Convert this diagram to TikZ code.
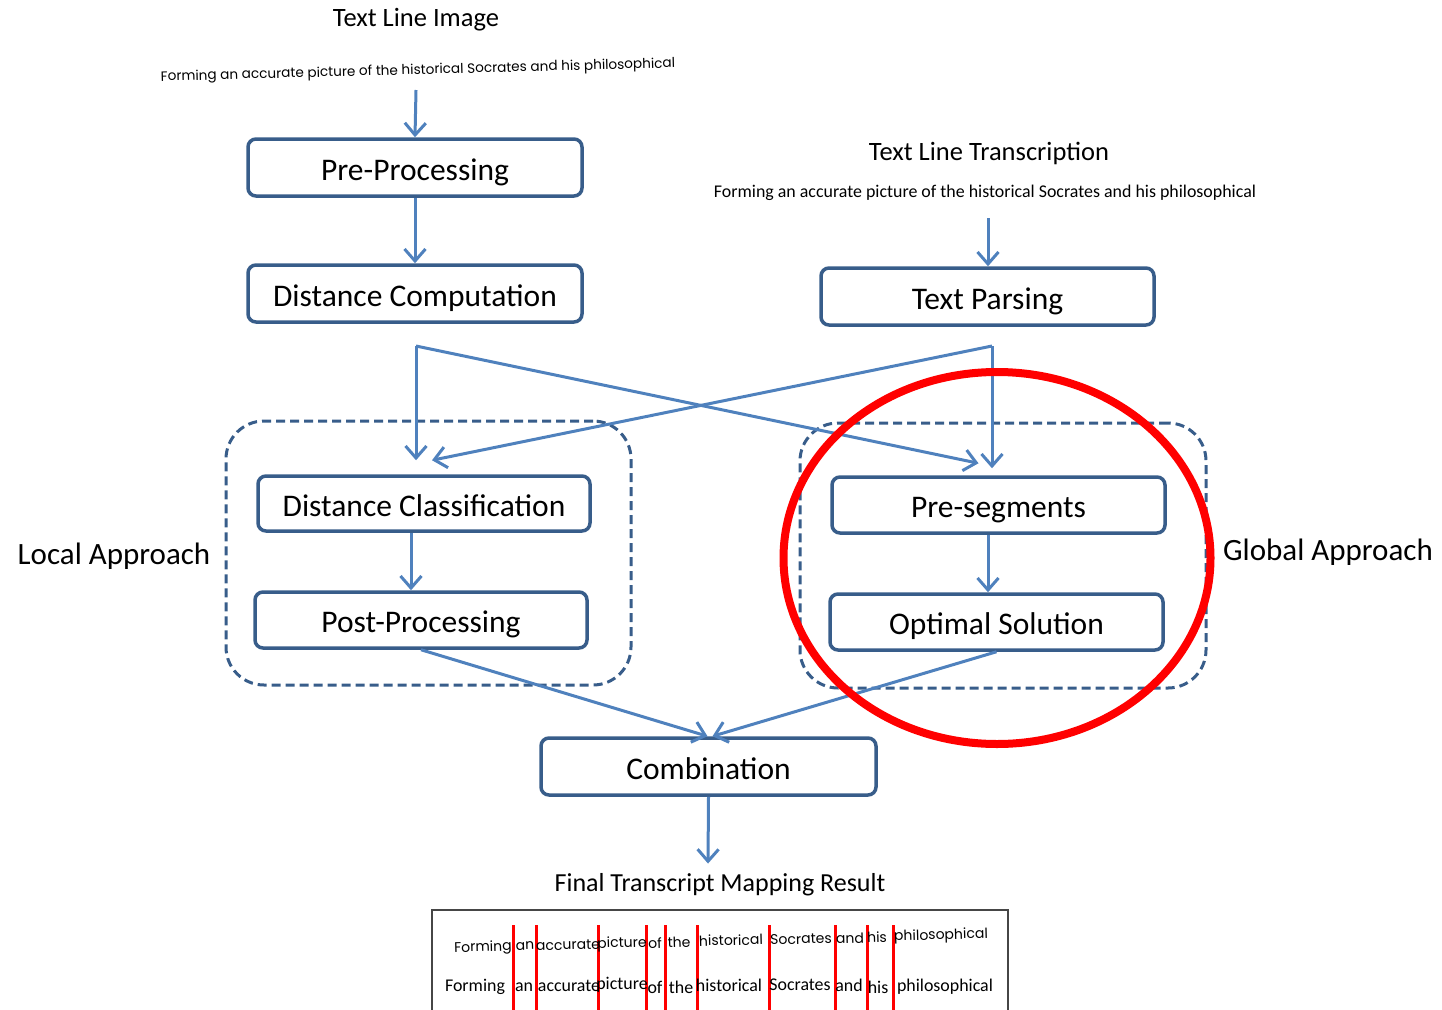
\documentclass[tikz,border=0pt]{standalone}
\usepackage{fontspec}
\setmainfont{Carlito}
\newfontfamily\handfont{Poppins}
\usetikzlibrary{arrows.meta}
\definecolor{flowblue}{RGB}{79,129,189}
\definecolor{boxblue}{RGB}{56,93,138}
\definecolor{framegray}{RGB}{70,70,70}
\tikzset{
  procbox/.style={draw=boxblue, line width=3.5pt, rounded corners=8pt, minimum width=334pt, minimum height=57pt, inner sep=0pt, fill=white, text height=25pt, text depth=0pt, font=\fontsize{31.5}{36}\selectfont},
  flow/.style={draw=flowblue, line width=3pt, -{Straight Barb[length=12pt,width=21pt]}},
  groupbox/.style={draw=boxblue, line width=3pt, dash pattern=on 9pt off 5pt, rounded corners=38pt, inner sep=0pt},
  heading/.style={font=\fontsize{26.5}{30}\selectfont, inner sep=0pt},
  sidelabel/.style={font=\fontsize{31}{35}\selectfont, inner sep=0pt},
  handword/.style={font=\handfont\fontsize{14}{16}\selectfont, inner sep=0pt, rotate=1.5},
  printword/.style={font=\fontsize{17.9}{21}\selectfont, inner sep=0pt},
}
\begin{document}
\begin{tikzpicture}[x=1pt,y=-1pt]
	\useasboundingbox (0,0) rectangle (1442,1009);
	% left branch: image
	\node[heading] (imgtitle) at (416,20) {Text Line Image};
	\node[handword, font=\handfont\fontsize{13.6}{16}\selectfont] (imgline) at (418,71) {Forming an accurate picture of the historical Socrates and his philosophical};
	\coordinate (imgout) at (416,90);
	\node[procbox] (pre) at (415,167.5) {Pre-Processing};
	\node[procbox] (dcomp) at (415,293.5) {Distance Computation};
	\draw[flow] (imgout) -- (pre.north);
	\draw[flow] (pre.south) -- (dcomp.north);
	% right branch: transcription
	\node[heading] (trtitle) at (989,153) {Text Line Transcription};
	\node[printword] (trline) at (985,193) {Forming an accurate picture of the historical Socrates and his philosophical};
	\coordinate (trout) at (988,218);
	\node[procbox, minimum width=333pt] (tparse) at (987.5,296.5) {Text Parsing};
	\draw[flow] (trout) -- (trout |- tparse.north);
	% approach groups
	\node[groupbox, minimum width=405pt, minimum height=264pt] (localgrp) at (428.5,553) {};
	\node[groupbox, minimum width=406pt, minimum height=265pt] (globalgrp) at (1003,555.5) {};
	\node[sidelabel] (locallbl) at (114,556) {Local Approach};
	\node[sidelabel] (globallbl) at (1328,552) {Global Approach};
	\node[procbox, minimum width=332pt, minimum height=55pt] (dclass) at (424,503.5) {Distance Classification};
	\node[procbox, minimum width=332pt, minimum height=56pt] (post) at (421,620) {Post-Processing};
	\node[procbox, minimum width=333pt, minimum height=56pt] (pseg) at (998.5,505) {Pre-segments};
	\node[procbox, minimum width=333pt, minimum height=56pt] (optsol) at (996.5,622) {Optimal Solution};
	\draw[flow] ([xshift=-13pt]dclass.south) -- ([xshift=-10pt]post.north);
	\draw[flow] ([xshift=-10.5pt]pseg.south) -- ([xshift=-8.5pt]optsol.north);
	% crossing connectors
	\coordinate (jl) at (416,346);
	\coordinate (jr) at (992,346);
	\draw[flow, shorten >=14pt] (jl) -- (jl |- dclass.north);
	\draw[flow] (jl) -- ([xshift=-20pt,yshift=12pt]pseg.north);
	\draw[flow, shorten >=7pt] (jr) -- (jr |- pseg.north);
	\draw[flow] (jr) -- ([xshift=8pt,yshift=14pt]dclass.north);
	% combination
	\node[procbox, minimum width=335pt] (comb) at (708.5,766.5) {Combination};
	\draw[flow] (post.south) -- ([xshift=-1pt]comb.north);
	\draw[flow] (optsol.south) -- ([xshift=4pt]comb.north);
	\node[heading, font=\fontsize{26}{30}\selectfont] (restitle) at (720,885) {Final Transcript Mapping Result};
	\draw[flow] (comb.south) -- ([xshift=-12pt,yshift=10pt]restitle.north);
	% result
	\node[draw=framegray, line width=1.5pt, minimum width=576pt, minimum height=115pt, anchor=north west, inner sep=0pt] (res) at (431,909) {};
	\draw[red, line width=3pt] (513,925)--(513,1010) (536,925)--(536,1010) (598,925)--(598,1010) (646,925)--(646,1010) (665,925)--(665,1010) (697,925)--(697,1010) (769,925)--(769,1010) (835,925)--(835,1010) (867,925)--(867,1010) (893,925)--(893,1010);
	\node[handword] (h1) at (483,948) {Forming};
	\node[handword] (h2) at (525,946) {an};
	\node[handword] (h3) at (568,945) {accurate};
	\node[handword] (h4) at (622,944) {picture};
	\node[handword] (h5) at (655,943) {of};
	\node[handword] (h6) at (679,942) {the};
	\node[handword] (h7) at (731,940) {historical};
	\node[handword] (h8) at (801,939) {Socrates};
	\node[handword] (h9) at (850,938) {and};
	\node[handword] (h10) at (877,937) {his};
	\node[handword] (h11) at (941,936) {philosophical};
	\node[printword] (p1) at (475,987) {Forming};
	\node[printword] (p2) at (524,987) {an};
	\node[printword] (p3) at (569,986) {accurate};
	\node[printword] (p4) at (622,985) {picture};
	\node[printword] (p5) at (655,987) {of};
	\node[printword] (p6) at (681,987) {the};
	\node[printword] (p7) at (729,985) {historical};
	\node[printword] (p8) at (800,985) {Socrates};
	\node[printword] (p9) at (849,985) {and};
	\node[printword] (p10) at (878,987) {his};
	\node[printword] (p11) at (945,987) {philosophical};
	% highlight
	\draw[red, line width=8pt] (997,558) ellipse [x radius=213.5, y radius=186];
\end{tikzpicture}
\end{document}
